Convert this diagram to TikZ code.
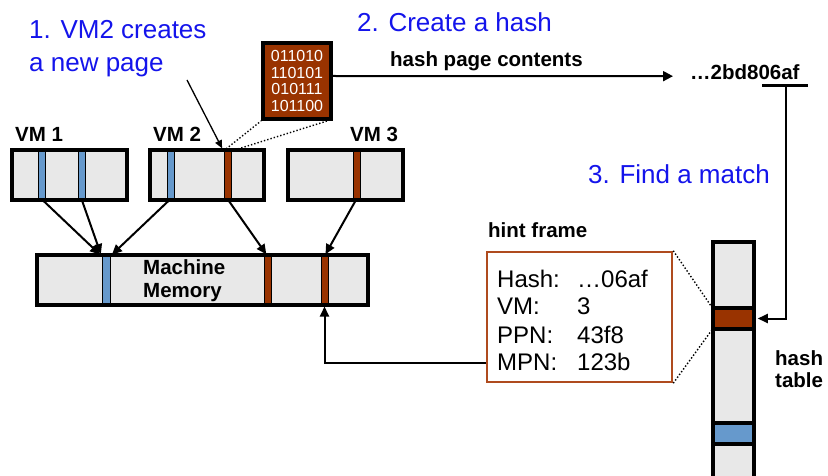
\documentclass[tikz,border=0pt]{standalone}
\usepackage{fontspec}
\setmainfont{Liberation Sans}
\usetikzlibrary{arrows.meta,calc}
\definecolor{stepblue}{RGB}{20,20,235}
\definecolor{pagebrown}{RGB}{153,51,0}
\definecolor{pageblue}{RGB}{102,153,204}
\definecolor{boxgray}{RGB}{232,232,232}
\definecolor{framebrown}{RGB}{175,75,30}

\begin{document}
\begin{tikzpicture}[x=1pt,y=-1pt,
  mem/.style={draw=black,line width=3.5pt,fill=boxgray,inner sep=0pt},
  slot/.style={draw=black,line width=1pt,inner sep=0pt,minimum width=7pt,minimum height=47pt},
  blueslot/.style={slot,fill=pageblue},
  brownslot/.style={slot,fill=pagebrown},
  cell/.style={draw=black,line width=3.5pt,inner sep=0pt,minimum width=41pt,minimum height=21pt},
  steptext/.style={text=stepblue,font=\fontsize{26}{30}\selectfont,inner sep=0pt,anchor=base west},
  lbl/.style={font=\bfseries\fontsize{20.5}{24}\selectfont,inner sep=0pt,anchor=base west},
  link/.style={line width=2pt,-{Triangle[length=10pt,width=9pt]}},
  zoomline/.style={line width=1.4pt,dotted},
]
\useasboundingbox (0,0) rectangle (828,476);

% step captions
\node[steptext] (s1a) at (29,39) {1. VM2 creates};
\node[steptext] (s1b) at (29,72) {a new page};
\node[steptext] (s2) at (357,32) {2. Create a hash};
\node[steptext] (s3) at (588,184) {3. Find a match};

% VM labels
\node[lbl] (l1) at (15,142) {VM 1};
\node[lbl] (l2) at (153,142) {VM 2};
\node[lbl] (l3) at (350,142) {VM 3};

% guest memories
\node[mem,minimum width=115pt,minimum height=50pt] (vm1) at (69.5,175) {};
\node[mem,minimum width=114pt,minimum height=50pt] (vm2) at (207,175) {};
\node[mem,minimum width=115pt,minimum height=50pt] (vm3) at (345.5,175) {};
\node[blueslot] (v1a) at (41.5,175) {};
\node[blueslot] (v1b) at (81.5,175) {};
\node[blueslot] (v2b) at (170.5,175) {};
\node[brownslot] (vr2) at (227.5,175) {};
\node[brownslot] (vr3) at (356.5,175) {};

% machine memory
\node[mem,minimum width=331pt,minimum height=50pt] (mm) at (202.5,280) {};
\node[blueslot,minimum width=8pt] (mmb) at (106,280) {};
\node[brownslot] (mmr1) at (267.5,280) {};
\node[brownslot] (mmr2) at (324.5,280) {};
\node[lbl] (mt1) at (143,274) {Machine};
\node[lbl] (mt2) at (143,297) {Memory};

% guest -> machine mappings
\draw[link,shorten >=2pt] (v1a.south) -- (mmb.north west);
\draw[link,shorten >=2pt] (v1b.south) -- (mmb.north west);
\draw[link,shorten >=2pt] (v2b.south) -- (mmb.north east);
\draw[link,shorten >=2pt] (vr2.south) -- (mmr1.north);
\draw[link,shorten >=2pt] (vr3.south) -- (mmr2.north);

% page contents
\node[draw=black,line width=4pt,fill=pagebrown,minimum width=68pt,minimum height=76pt,
      inner sep=0pt,text=white,align=center,font=\fontsize{16}{16.7}\selectfont]
      (bin) at (297,81) {011010\\110101\\010111\\101100};
\draw[zoomline] (vr2.north west) -- (bin.south west);
\draw[zoomline] (vr2.north east) -- ($(bin.south east)+(-6,0)$);

% new page pointer
\coordinate (ptr) at (187,80);
\draw[line width=1.3pt,-{Triangle[length=8pt,width=7pt]},shorten >=3pt] (ptr) -- (vr2.north west);

% hashing
\node[lbl] (hv) at (690,80) {…2bd806af};
\node[lbl] (hpc) at (390,67) {hash page contents};
\draw[line width=2pt,-{Triangle[length=10pt,width=10pt]}] ($(bin.east)+(0,-5)$) -- ($(hv.west)+(-17,3.5)$);
\coordinate (ul) at (786,86);
\draw[line width=3pt] (762,86) -- (808,86);

% hash table
\node[mem,minimum width=41pt,minimum height=250pt] (ht) at (733.5,367) {};
\node[cell,fill=pagebrown] (htb) at (733.5,318.5) {};
\node[cell,fill=pageblue] (htl) at (733.5,433.5) {};
\node[lbl] (ht1) at (775,365) {hash};
\node[lbl] (ht2) at (775,387) {table};
\draw[link,shorten >=2pt] (ul) |- (htb.east);

% hint frame
\node[lbl] (hf) at (488,237) {hint frame};
\node[draw=framebrown,line width=2.5pt,fill=white,minimum width=185pt,minimum height=130pt,inner sep=0pt] (hint) at (579.5,317) {};
\node[anchor=base west,inner sep=0pt,font=\fontsize{24}{28}\selectfont] (hinttxt) at (497,287)
  {\begin{tabular}[t]{@{}p{80pt}@{}l@{}}Hash: & …06af\\ VM: & 3\\ PPN: & 43f8\\ MPN: & 123b\end{tabular}};
\draw[zoomline] (hint.north east) -- (htb.north west);
\draw[zoomline] (hint.south east) -- (htb.south west);

% hint -> machine page
\draw[link,shorten >=2.5pt] ($(hint.south west)+(0,-20)$) -| (mmr2.south);
\end{tikzpicture}
\end{document}
